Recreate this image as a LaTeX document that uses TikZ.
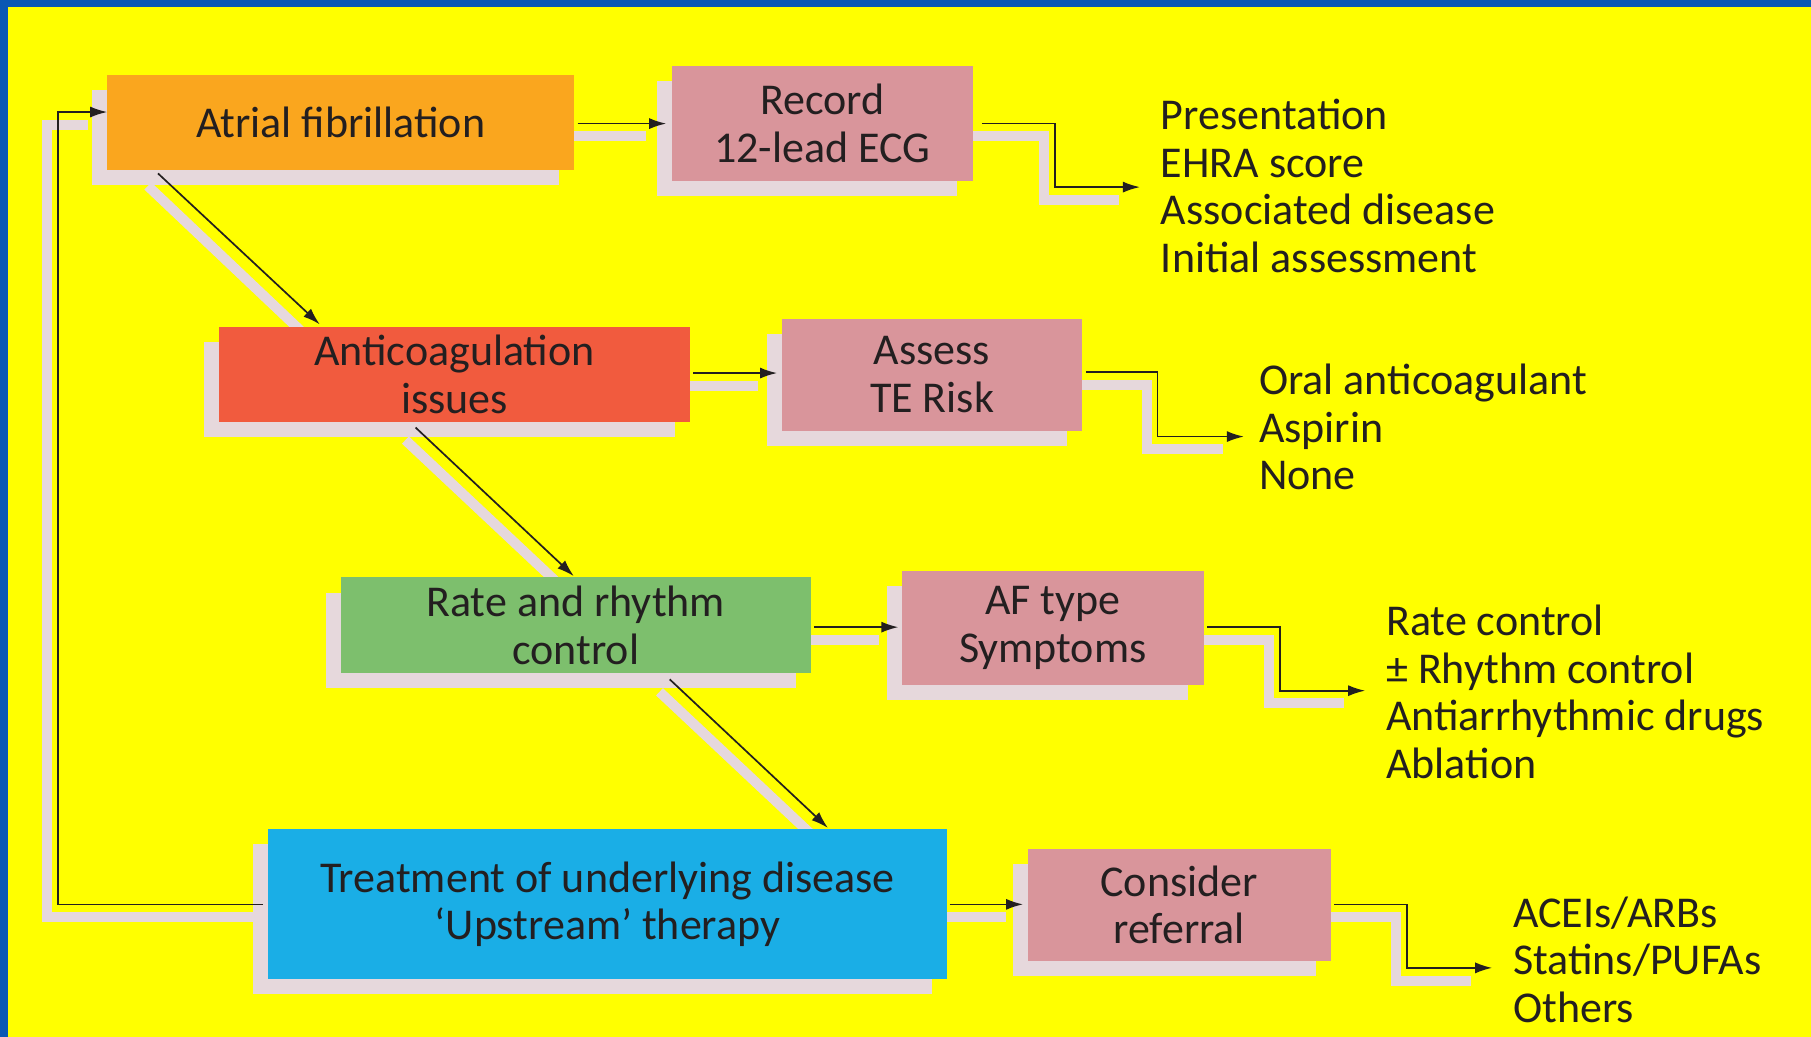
\documentclass[tikz,border=0pt]{standalone}
\usepackage{fontspec}
\setmainfont{Carlito}
\usetikzlibrary{arrows.meta,calc}

\definecolor{bgyellow}{HTML}{FFFF00}
\definecolor{frameblue}{HTML}{0A58B4}
\definecolor{afcol}{HTML}{FAA61E}
\definecolor{accol}{HTML}{F15B3E}
\definecolor{rrcol}{HTML}{7DBF6D}
\definecolor{tucol}{HTML}{1AAEE6}
\definecolor{pinkcol}{HTML}{D9959B}
\definecolor{shadowcol}{HTML}{E6D8DC}
\definecolor{inkcol}{HTML}{231F20}

\tikzset{
  box/.style={inner sep=0pt, align=center, text=inkcol,
    font=\fontsize{44}{47.5}\selectfont},
  outlist/.style={inner sep=0pt, align=left, anchor=west, text=inkcol,
    font=\fontsize{44}{47.5}\selectfont},
  conn/.style={draw=inkcol, line width=1.7pt,
    -{Latex[length=17pt,width=11pt]}},
  connshadow/.style={draw=shadowcol, line width=10pt},
}

\begin{document}
\begin{tikzpicture}[x=1.155pt,y=-1.155pt]
  % page: yellow field with a blue band along the top and left edges
  \useasboundingbox (0,0) rectangle (1568,897);
  \fill[bgyellow] (-10,-10) rectangle (1580,910);
  \fill[frameblue] (-10,-10) rectangle (1580,6);
  \fill[frameblue] (-10,-10) rectangle (7,910);

  % box shadows
  \foreach \x/\y/\w/\h in {93/65/404/82, 582/57/260/100,
      190/283/407/82, 677/276/260/97,
      295/500/407/83, 781/494/261/99,
      232/718/588/130, 890/735/262/97}{
    \fill[shadowcol] (\x-13,\y+13) rectangle (\x+\w-13,\y+\h+13);
  }

  % connector shadows
  \begin{scope}[shift={(-9,11)}]
    \draw[connshadow] (500,107) -- (568,107);
    \draw[connshadow] (850,107) -| (913,162) -- (978,162);
    \draw[connshadow] (600,323) -- (665,323);
    \draw[connshadow] (940,322) -| (1002,378) -- (1068,378);
    \draw[connshadow] (705,543) -- (770,543);
    \draw[connshadow] (1045,543) -| (1108,598) -- (1173,598);
    \draw[connshadow] (822,783) -- (880,783);
    \draw[connshadow] (1155,783) -| (1218,838) -- (1283,838);
    \draw[connshadow] (228,783) -| (50,97) -- (85,97);
    \draw[connshadow] (137,150) -- (270,276);
    \draw[connshadow] (360,370) -- (492,494);
    \draw[connshadow] (580,588) -- (712,712);
  \end{scope}

  % main boxes
  \node[box, fill=afcol, minimum width=404*1.155pt, minimum height=82*1.155pt]
    (af) at (295,106) {Atrial fibrillation};
  \node[box, fill=accol, minimum width=407*1.155pt, minimum height=82*1.155pt]
    (ac) at (393.5,324) {Anticoagulation\\issues};
  \node[box, fill=rrcol, minimum width=407*1.155pt, minimum height=83*1.155pt]
    (rr) at (498.5,541.5) {Rate and rhythm\\control};
  \node[box, fill=tucol, minimum width=588*1.155pt, minimum height=130*1.155pt]
    (tu) at (526,783) {Treatment of underlying disease\\`Upstream' therapy};

  % action boxes
  \node[box, fill=pinkcol, minimum width=260*1.155pt, minimum height=100*1.155pt]
    (rec) at (712,107) {Record\\12-lead ECG};
  \node[box, fill=pinkcol, minimum width=260*1.155pt, minimum height=97*1.155pt]
    (te) at (807,324.5) {Assess\\TE Risk};
  \node[box, fill=pinkcol, minimum width=261*1.155pt, minimum height=99*1.155pt]
    (ty) at (911.5,543.5) {AF type\\Symptoms};
  \node[box, fill=pinkcol, minimum width=262*1.155pt, minimum height=97*1.155pt]
    (ref) at (1021,783.5) {Consider\\referral};

  % outcome lists
  \node[outlist] (o1) at (1005,161)
    {Presentation\\EHRA score\\Associated disease\\Initial assessment};
  \node[outlist] (o2) at (1090,370) {Oral anticoagulant\\Aspirin\\None};
  \node[outlist] (o3) at (1200,599)
    {Rate control\\± Rhythm control\\Antiarrhythmic drugs\\Ablation};
  \node[outlist] (o4) at (1310,831) {ACEIs/ARBs\\Statins/PUFAs\\Others};

  % arrow ends next to the outcome lists
  \coordinate (t1) at ($(o1.west)+(-18,1)$);
  \coordinate (t2) at ($(o2.west)+(-13,8)$);
  \coordinate (t3) at ($(o3.west)+(-18,-1)$);
  \coordinate (t4) at ($(o4.west)+(-18,7)$);

  % horizontal arrows to the action boxes
  \draw[conn] ($(af.east)+(3,1)$) -- ($(rec.west)+(-5,0)$);
  \draw[conn] ($(ac.east)+(3,-1)$) -- ($(te.west)+(-4,-1.5)$);
  \draw[conn] ($(rr.east)+(3,1.5)$) -- ($(ty.west)+(-3,-0.5)$);
  \draw[conn] ($(tu.east)+(2,0)$) -- ($(ref.west)+(-4,-0.5)$);

  % stepped arrows to the outcome lists
  \draw[conn] ($(rec.east)+(8,0)$) -| ($(rec.east)+(71,55)$) -- (t1);
  \draw[conn] ($(te.east)+(3,-2.5)$) -| ($(te.east)+(65,53.5)$) -- (t2);
  \draw[conn] ($(ty.east)+(3,-0.5)$) -| ($(ty.east)+(66,54.5)$) -- (t3);
  \draw[conn] ($(ref.east)+(3,-0.5)$) -| ($(ref.east)+(66,54.5)$) -- (t4);

  % diagonal cascade
  \draw[conn] ($(af.south west)+(44,3)$) -- ($(ac.north west)+(87,-2)$);
  \draw[conn] ($(ac.south west)+(170,5)$) -- ($(rr.north west)+(202,-1)$);
  \draw[conn] ($(rr.south west)+(285,5)$) -- ($(tu.north west)+(485,-1)$);

  % feedback loop to atrial fibrillation
  \draw[conn] ($(tu.west)+(-4,0)$) -| (50,97) -- ($(af.west)+(0,-9)$);
\end{tikzpicture}
\end{document}
